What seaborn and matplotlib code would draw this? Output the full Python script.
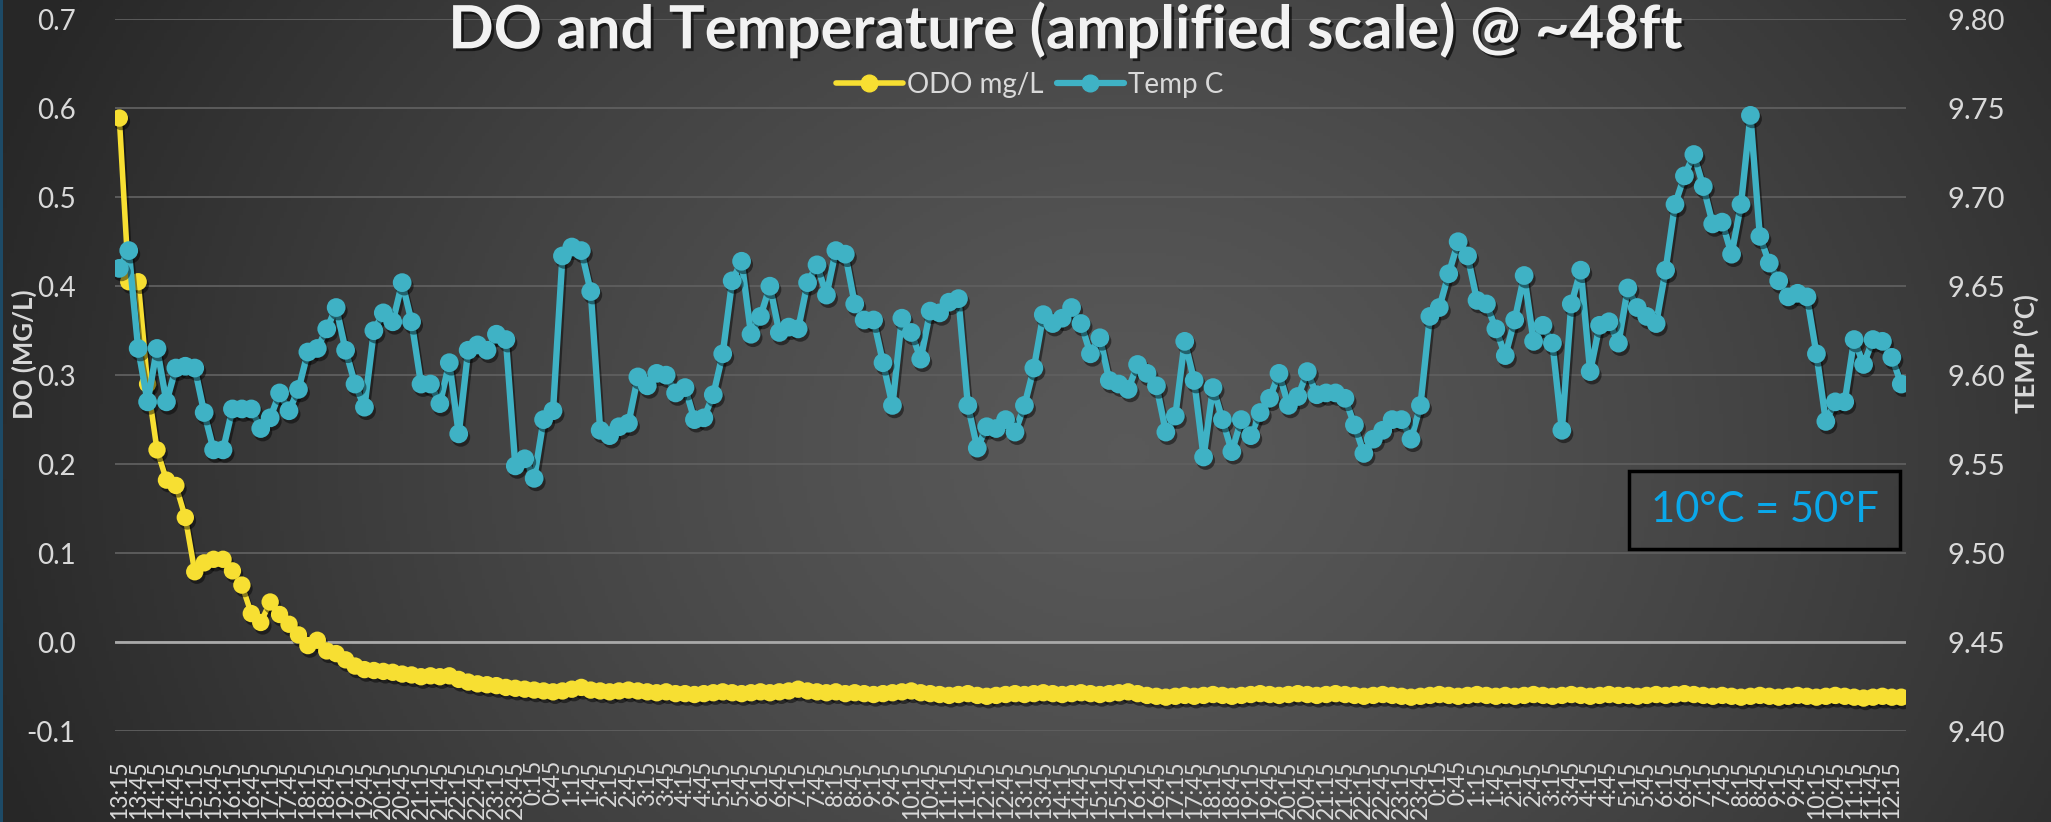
import numpy as np
import pandas as pd
import matplotlib
matplotlib.use("Agg")
import matplotlib.pyplot as plt
import matplotlib.patheffects as pe
from matplotlib.lines import Line2D
from matplotlib.patches import Rectangle
import seaborn as sns

sns.set_theme(style="white")
plt.rcParams['font.family'] = ['Lato', 'DejaVu Sans']

# sonde readings every 15 minutes, starting 13:15
times = pd.date_range('2000-01-01 13:15', periods=190, freq='15min')
time_labels = [f'{t.hour}:{t.minute:02d}' for t in times]

odo_mgl = [
    0.589, 0.405, 0.405, 0.290, 0.216, 0.182, 0.176, 0.140, 0.079, 0.089,
    0.093, 0.093, 0.080, 0.064, 0.032, 0.022, 0.045, 0.031, 0.020, 0.008,
    -0.004, 0.002, -0.010, -0.013, -0.020, -0.027, -0.031, -0.032, -0.033, -0.034,
    -0.036, -0.037, -0.039, -0.038, -0.039, -0.038, -0.042, -0.045, -0.047,
    -0.048, -0.049, -0.051, -0.052, -0.053, -0.054, -0.055, -0.056, -0.055, -0.053, -0.051,
    -0.054, -0.055, -0.056, -0.055, -0.054, -0.055, -0.056, -0.057, -0.056, -0.058, -0.058,
    -0.059, -0.058, -0.057, -0.056, -0.057, -0.058, -0.057, -0.056, -0.057, -0.056, -0.055,
    -0.053, -0.055, -0.056, -0.057, -0.056, -0.058, -0.057, -0.058, -0.059, -0.058, -0.057,
    -0.056, -0.055, -0.057, -0.058, -0.059, -0.060, -0.059, -0.058, -0.060, -0.061, -0.060,
    -0.059, -0.058, -0.059, -0.058, -0.057, -0.058, -0.059, -0.058, -0.057, -0.058, -0.059,
    -0.058, -0.057, -0.056, -0.058, -0.060, -0.061, -0.062, -0.061, -0.060, -0.061, -0.060,
    -0.059, -0.060, -0.061, -0.060, -0.059, -0.058, -0.059, -0.060, -0.059, -0.058, -0.059,
    -0.060, -0.059, -0.058, -0.059, -0.060, -0.061, -0.060, -0.059, -0.060, -0.061, -0.062,
    -0.061, -0.060, -0.059, -0.060, -0.061, -0.060, -0.059, -0.060, -0.061, -0.060, -0.061,
    -0.060, -0.059, -0.060, -0.061, -0.060, -0.059, -0.060, -0.061, -0.060, -0.059, -0.060,
    -0.060, -0.061, -0.060, -0.059, -0.060, -0.059, -0.058, -0.059, -0.060, -0.061, -0.060,
    -0.061, -0.062, -0.061, -0.060, -0.061, -0.062, -0.061, -0.060, -0.061, -0.062, -0.061,
    -0.060, -0.061, -0.062, -0.063, -0.062, -0.061, -0.062, -0.062,
]

temp_c = [
    9.660, 9.670, 9.615, 9.585, 9.615, 9.585, 9.604, 9.605, 9.604, 9.579,
    9.558, 9.558, 9.581, 9.581, 9.581, 9.570, 9.576, 9.590, 9.580, 9.592,
    9.613, 9.615, 9.626, 9.638, 9.614, 9.595, 9.582, 9.625, 9.635, 9.630,
    9.652, 9.630, 9.595, 9.595, 9.584, 9.607, 9.567, 9.614, 9.617,
    9.614, 9.623, 9.620, 9.549, 9.553, 9.542, 9.575, 9.580, 9.667, 9.672,
    9.670, 9.647, 9.569, 9.566, 9.571, 9.573, 9.599, 9.594, 9.601, 9.600,
    9.590, 9.593, 9.575, 9.576, 9.589, 9.612, 9.653, 9.664, 9.623, 9.633,
    9.650, 9.624, 9.627, 9.626, 9.652, 9.662, 9.645, 9.670, 9.668, 9.640,
    9.631, 9.631, 9.607, 9.583, 9.632, 9.624, 9.609, 9.636, 9.635, 9.641,
    9.643, 9.583, 9.559, 9.571, 9.570, 9.575, 9.568, 9.583, 9.604, 9.634,
    9.629, 9.632, 9.638, 9.629, 9.612, 9.621, 9.597, 9.595, 9.592, 9.606,
    9.601, 9.594, 9.568, 9.577, 9.619, 9.597, 9.554, 9.593, 9.575, 9.557,
    9.575, 9.566, 9.579, 9.587, 9.601, 9.583, 9.588, 9.602, 9.589, 9.590,
    9.590, 9.587, 9.572, 9.556, 9.564, 9.569, 9.575, 9.575, 9.564, 9.583,
    9.633, 9.638, 9.657, 9.675, 9.667, 9.642, 9.640, 9.626, 9.611, 9.631,
    9.656, 9.619, 9.628, 9.618, 9.569, 9.640, 9.659, 9.602, 9.628, 9.630,
    9.618, 9.649, 9.638, 9.633, 9.629, 9.659, 9.696, 9.712, 9.724, 9.706,
    9.685, 9.686, 9.668, 9.696, 9.746, 9.678, 9.663, 9.653, 9.644, 9.646,
    9.644, 9.612, 9.574, 9.585, 9.585, 9.620, 9.606, 9.620, 9.619, 9.610,
    9.595,
]

do_ticks = [-0.1, 0.0, 0.1, 0.2, 0.3, 0.4, 0.5, 0.6, 0.7]
temp_ticks = [9.40, 9.45, 9.50, 9.55, 9.60, 9.65, 9.70, 9.75, 9.80]

df = pd.DataFrame({'idx': np.arange(len(times)), 'time': time_labels,
                   'odo': odo_mgl, 'temp': temp_c})

yellow = '#f7df32'
teal = '#3fb2c5'
text_col = '#d9d9d9'
W, H = 2051, 822

fig = plt.figure(figsize=(W / 100, H / 100), dpi=100)

# dark gradient backdrop
bg = fig.add_axes([0, 0, 1, 1], zorder=-10)
u, v = np.meshgrid(np.linspace(0, 1, 600), np.linspace(0, 1, 240))
d = np.sqrt(((u - 0.55) / 0.58) ** 2 + ((v - 0.55) / 1.2) ** 2)
shade = 0.35 - (0.35 - 0.155) * np.clip(d, 0, 1) ** 1.3
bg.imshow(np.dstack([shade] * 3), extent=[0, 1, 0, 1], aspect='auto', origin='upper')
bg.axis('off')
fig.add_artist(Rectangle((0, 0), 3 / W, 1, transform=fig.transFigure, color='#1d4a66', lw=0))

left, right = 114.6 / W, 1906 / W
bottom, top = 1 - 731 / H, 1 - 19.3 / H
ax = fig.add_axes([left, bottom, right - left, top - bottom])
ax.set_facecolor('none')
ax2 = ax.twinx()
ax2.set_facecolor('none')

line_fx = [pe.SimpleLineShadow(offset=(1.5, -2.5), shadow_color='black', alpha=0.45), pe.Normal()]
mark_fx = [pe.SimplePatchShadow(offset=(1.5, -2.5), shadow_rgbFace='black', alpha=0.45), pe.Normal()]

sns.lineplot(data=df, x='idx', y='odo', ax=ax, color=yellow, lw=4, path_effects=line_fx, zorder=3)
sns.lineplot(data=df, x='idx', y='odo', ax=ax, color=yellow, linestyle='', marker='o',
             markersize=12.5, markeredgewidth=0, path_effects=mark_fx, zorder=4)
sns.lineplot(data=df, x='idx', y='temp', ax=ax2, color=teal, lw=4.6, path_effects=line_fx, zorder=3)
sns.lineplot(data=df, x='idx', y='temp', ax=ax2, color=teal, linestyle='', marker='o',
             markersize=13.5, markeredgewidth=0, path_effects=mark_fx, zorder=4)

ax.set_xlim(-0.5, len(times) - 0.5)
ax.set_ylim(-0.1, 0.7)
ax2.set_ylim(9.40, 9.80)

ax.set_yticks(do_ticks)
ax.set_yticklabels([f'{t:.1f}' for t in do_ticks])
ax2.set_yticks(temp_ticks)
ax2.set_yticklabels([f'{t:.2f}' for t in temp_ticks])
ax.set_xticks(df['idx'][::2])
ax.set_xticklabels(df['time'][::2], rotation=90, va='top', ha='center')

ax.grid(axis='y', color='#5f5f5f', lw=1.3)
ax.grid(axis='x', visible=False)
ax2.grid(False)
ax.axhline(0, color='#a9a9a9', lw=2, zorder=1)
for a in (ax, ax2):
    for s in a.spines.values():
        s.set_visible(False)

ax.tick_params(axis='x', length=0, pad=21, labelsize=16.5, labelcolor=text_col)
ax.tick_params(axis='y', length=0, pad=28, labelsize=20, labelcolor=text_col)
ax2.tick_params(axis='y', length=0, pad=30, labelsize=21, labelcolor=text_col)

ax.set_xlabel('')
ax.set_ylabel('DO (MG/L)', fontsize=18.5, fontweight='bold', color=text_col)
ax.yaxis.set_label_coords((37 - 114.6) / 1791.4, 0.53)
ax2.set_ylabel('TEMP (°C)', fontsize=18.5, fontweight='bold', color=text_col, rotation=90)
ax2.yaxis.set_label_coords((2014 - 114.6) / 1791.4, 0.53)

fig.text(1066 / W, 1 - 30 / H, 'DO and Temperature (amplified scale) @ ~48ft',
         ha='center', va='center', fontsize=43, fontweight='bold', color='#f2f2f2',
         path_effects=[pe.withSimplePatchShadow(offset=(2, -2), shadow_rgbFace='black', alpha=0.6)])

handles = [Line2D([], [], color=yellow, lw=4, marker='o', markersize=12),
           Line2D([], [], color=teal, lw=4.5, marker='o', markersize=12)]
fig.legend(handles, ['ODO mg/L', 'Temp C'], loc='center', bbox_to_anchor=(0.502, 1 - 85 / H),
           ncol=2, frameon=False, fontsize=20, handlelength=2.4, handletextpad=0.15,
           columnspacing=0.5, labelcolor=text_col)

# annotation box
fig.add_artist(Rectangle((1629 / W, 1 - 549 / H), (1900 - 1629) / W, (549 - 471) / H,
                         transform=fig.transFigure, fill=False, edgecolor='black', lw=2.5))
fig.text(1765 / W, 1 - 510 / H, '10°C = 50°F', ha='center', va='center',
         fontsize=30, color='#0aa8ea')

fig.savefig('out.png', dpi=100)
